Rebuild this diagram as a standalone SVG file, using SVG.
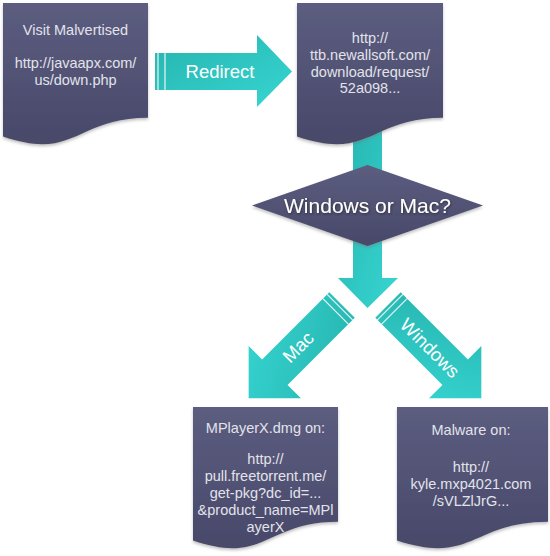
<svg xmlns="http://www.w3.org/2000/svg" width="550" height="556" viewBox="0 0 550 556">
<style>
.doc{fill:url(#gDoc);filter:url(#sh)}
.arr{fill:url(#gTeal)}
.stripe{stroke:#dff2f1;stroke-width:1.3;fill:none}
.t{font-family:"Liberation Sans",Arial,sans-serif;font-size:14.5px;fill:#e2e3ea;text-anchor:middle}
.lbl{font-family:"Liberation Sans",Arial,sans-serif;fill:#ffffff;text-anchor:middle}
</style>
<defs>
<linearGradient id="gDoc" x1="0" y1="0" x2="0" y2="1">
<stop offset="0" stop-color="#5c5d80"/>
<stop offset="1" stop-color="#48486a"/>
</linearGradient>
<linearGradient id="gTeal" x1="0" y1="0" x2="1" y2="1">
<stop offset="0" stop-color="#26b4af"/>
<stop offset="1" stop-color="#37d6d2"/>
</linearGradient>
<filter id="sh" x="-10%" y="-10%" width="120%" height="130%">
<feDropShadow dx="0" dy="2" stdDeviation="1.5" flood-color="#777" flood-opacity="0.45"/>
</filter>
<filter id="tsh" x="-10%" y="-30%" width="120%" height="160%">
<feDropShadow dx="0.8" dy="1" stdDeviation="0.8" flood-color="#222" flood-opacity="0.7"/>
</filter>
</defs>
<g id="connectors">
<g id="redirect">
<path class="arr" d="M155,53 H257 V35 L292,71.5 L257,107 V90 H155 Z"/>
<line class="stripe" x1="158" y1="53" x2="158" y2="90"/>
<line class="stripe" x1="165" y1="53" x2="165" y2="90"/>
<text class="lbl" x="220" y="78" font-size="18.5">Redirect</text>
</g>
<path id="down" class="arr" d="M353,125 H382 V278 H398 L367.5,308 L338,278 H353 Z"/>
<g id="mac" transform="translate(342,305) rotate(135)">
<path class="arr" d="M0,-18 H95 V-37 L132,0 L95,37 V18 H0 Z"/>
<line class="stripe" x1="3" y1="-18" x2="3" y2="18"/>
<line class="stripe" x1="9" y1="-18" x2="9" y2="18"/>
</g>
<text class="lbl" font-size="18.5" transform="translate(298,347) rotate(-45)" y="6.5">Mac</text>
<g id="windows" transform="translate(388,305) rotate(45)">
<path class="arr" d="M0,-18 H95 V-37 L132,0 L95,37 V18 H0 Z"/>
<line class="stripe" x1="3" y1="-18" x2="3" y2="18"/>
<line class="stripe" x1="9" y1="-18" x2="9" y2="18"/>
</g>
<text class="lbl" font-size="18.5" transform="translate(430,348) rotate(45)" y="6.5">Windows</text>
</g>
<g id="node1">
<path class="doc" d="M3,3 H148 V117.7 C75.5,117.7 75.5,161.4 3,136.6 Z"/>
<text class="t" x="75.5" y="35">Visit Malvertised</text>
<text class="t" x="75.5" y="68">http://javaapx.com/</text>
<text class="t" x="75.5" y="85">us/down.php</text>
</g>
<g id="node2">
<path class="doc" d="M297,3 H443 V117.7 C370,117.7 370,161.4 297,136.6 Z"/>
<text class="t" x="370" y="43">http://</text>
<text class="t" x="370" y="60">ttb.newallsoft.com/</text>
<text class="t" x="370" y="76.5">download/request/</text>
<text class="t" x="370" y="93">52a098...</text>
</g>
<g id="decision">
<polygon points="252,205.5 367.5,165 483,205.5 367.5,246" fill="url(#gDoc)" filter="url(#sh)"/>
<text class="lbl" x="367.5" y="213" font-size="21" filter="url(#tsh)">Windows or Mac?</text>
</g>
<g id="node3">
<path class="doc" d="M193,407 H338 V521.7 C265.5,521.7 265.5,565.4 193,540.6 Z"/>
<text class="t" x="265.5" y="433">MPlayerX.dmg on:</text>
<text class="t" x="265.5" y="464">http://</text>
<text class="t" x="265.5" y="481">pull.freetorrent.me/</text>
<text class="t" x="265.5" y="498">get-pkg?dc_id=...</text>
<text class="t" x="265.5" y="515">&amp;product_name=MPl</text>
<text class="t" x="265.5" y="532">ayerX</text>
</g>
<g id="node4">
<path class="doc" d="M397,407 H548 V521.7 C472.5,521.7 472.5,565.4 397,540.6 Z"/>
<text class="t" x="471" y="435">Malware on:</text>
<text class="t" x="471" y="472">http://</text>
<text class="t" x="471" y="489">kyle.mxp4021.com</text>
<text class="t" x="471" y="506">/sVLZlJrG...</text>
</g>
</svg>
